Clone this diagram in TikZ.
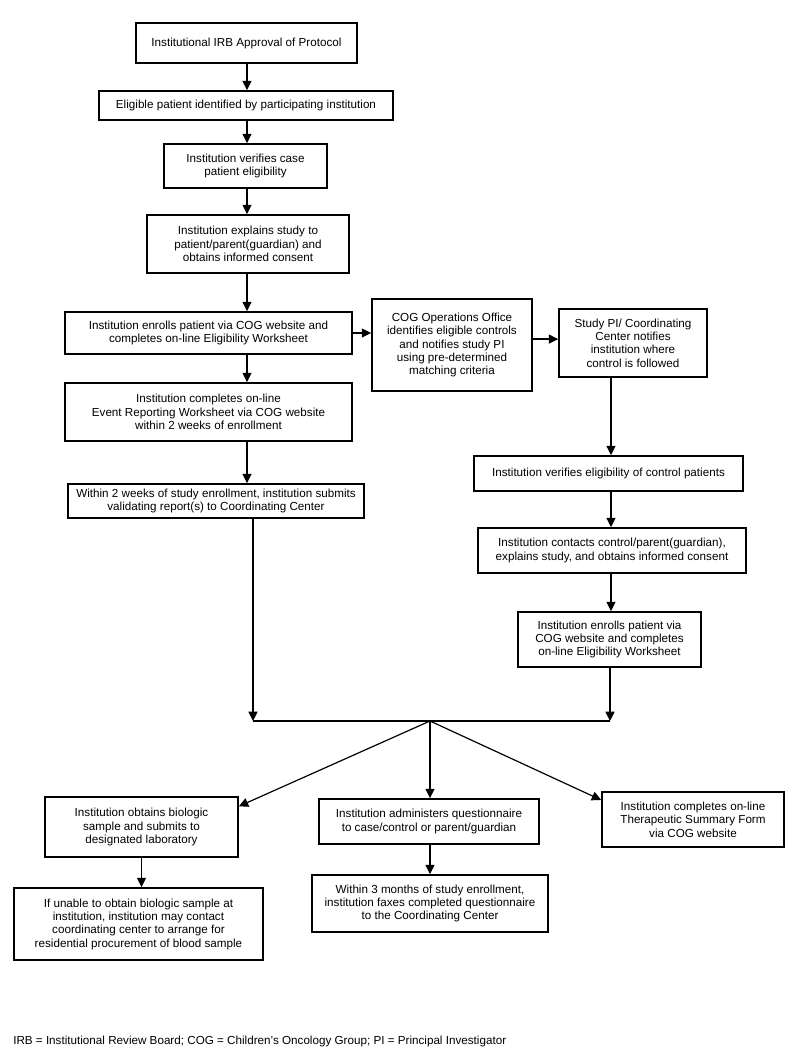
\documentclass[tikz,border=0pt]{standalone}
\usepackage{fontspec}
\setmainfont{Liberation Sans}
\usetikzlibrary{arrows.meta}

\begin{document}
\begin{tikzpicture}
[x=0.75pt,y=-0.75pt,
  lineDecorate/.style={->,>={Triangle[length=7pt,width=6.8pt]},line width=0.9pt},%
  nodeDecorate/.style={shape=rectangle,draw,line width=1.3pt,inner sep=0pt,
    align=center,font=\fontsize{8.75}{10}\selectfont},
  boxSize/.style 2 args={minimum width=#1*0.75pt,minimum height=#2*0.75pt}]
\useasboundingbox (0,0) rectangle (800,1060);
%% case column
\node (irb) at (246.5,43) [nodeDecorate,boxSize={221}{40}]
  {Institutional IRB Approval of Protocol};
\node (ident) at (246,105.5) [nodeDecorate,boxSize={294}{29}]
  {Eligible patient identified by participating institution};
\node (caseVerify) at (245.5,166) [nodeDecorate,boxSize={163}{44}]
  {Institution verifies case\\patient eligibility};
\node (explain) at (248,244) [nodeDecorate,boxSize={202}{58}]
  {Institution explains study to\\patient/parent(guardian) and\\obtains informed consent};
\node (caseEnroll) at (208.5,333) [nodeDecorate,boxSize={287}{42}]
  {Institution enrolls patient via COG website and\\completes on-line Eligibility Worksheet};
\node (event) at (208.5,412) [nodeDecorate,boxSize={287}{58}]
  {Institution completes on-line\\Event Reporting Worksheet via COG website\\within 2 weeks of enrollment};
\node (validate) at (216,501) [nodeDecorate,boxSize={296}{34}]
  {Within 2 weeks of study enrollment, institution submits\\validating report(s) to Coordinating Center};
%% control column
\node (cogOps) at (452,345) [nodeDecorate,boxSize={160}{92}]
  {COG Operations Office\\identifies eligible controls\\and notifies study PI\\using pre-determined\\matching criteria};
\node (studyPI) at (633,343) [nodeDecorate,boxSize={148}{68}]
  {Study PI/ Coordinating\\Center notifies\\institution where\\control is followed};
\node (ctrlVerify) at (608.5,473.5) [nodeDecorate,boxSize={269}{35}]
  {Institution verifies eligibility of control patients};
\node (contact) at (612,550.5) [nodeDecorate,boxSize={268}{45}]
  {Institution contacts control/parent(guardian),\\explains study, and obtains informed consent};
\node (ctrlEnroll) at (609.5,639.5) [nodeDecorate,boxSize={183}{55}]
  {Institution enrolls patient via\\COG website and completes\\on-line Eligibility Worksheet};
%% common steps
\node (bio) at (141.5,827) [nodeDecorate,boxSize={193}{60}]
  {Institution obtains biologic\\sample and submits to\\designated laboratory};
\node (unable) at (138.5,924) [nodeDecorate,boxSize={249}{72}]
  {If unable to obtain biologic sample at\\institution, institution may contact\\coordinating center to arrange for\\residential procurement of blood sample};
\node (quest) at (429,821.5) [nodeDecorate,boxSize={220}{45}]
  {Institution administers questionnaire\\to case/control or parent/guardian};
\node (faxes) at (430,903.5) [nodeDecorate,boxSize={236}{57}]
  {Within 3 months of study enrollment,\\institution faxes completed questionnaire\\to the Coordinating Center};
\node (thera) at (693,819.5) [nodeDecorate,boxSize={182}{55}]
  {Institution completes on-line\\Therapeutic Summary Form\\via COG website};
\node (legend) at (13,1041) [anchor=west,inner sep=0pt,font=\fontsize{8.75}{10}\selectfont]
  {IRB = Institutional Review Board; COG = Children’s Oncology Group; PI = Principal Investigator};
%% helper points
\coordinate (mainX) at (247,0);
\coordinate (ctrlX) at (611,0);
\coordinate (barL) at (253,721);
\coordinate (barR) at (610,721);
\coordinate (hub) at (430,721);
%% edges or lines
\path
\foreach \startnode/\endnode in {
  irb/ident, ident/caseVerify, caseVerify/explain,
  explain/caseEnroll, caseEnroll/event, event/validate}
{
  (\startnode.south -| mainX) edge[lineDecorate] (\endnode.north -| mainX)
};
\path
\foreach \startnode/\endnode in {
  studyPI/ctrlVerify, ctrlVerify/contact, contact/ctrlEnroll}
{
  (\startnode.south -| ctrlX) edge[lineDecorate] (\endnode.north -| ctrlX)
};
\draw[lineDecorate] (caseEnroll.east) -- (cogOps.west |- caseEnroll.east);
\draw[lineDecorate] (cogOps.east |- studyPI.177) -- (studyPI.177);
\draw[lineDecorate] (validate.south -| barL) -- (barL);
\draw[lineDecorate] (ctrlEnroll.south -| barR) -- (barR);
\draw[line width=0.9pt] (barL) -- (barR);
\draw[lineDecorate] (hub) -- (bio.12);
\draw[lineDecorate] (hub) -- (hub |- quest.north);
\draw[lineDecorate] (hub) -- (thera.168);
\draw[lineDecorate] (bio.south) -- (bio.south |- unable.north);
\draw[lineDecorate] (quest.south -| hub) -- (faxes.north -| hub);
\end{tikzpicture}
\end{document}
